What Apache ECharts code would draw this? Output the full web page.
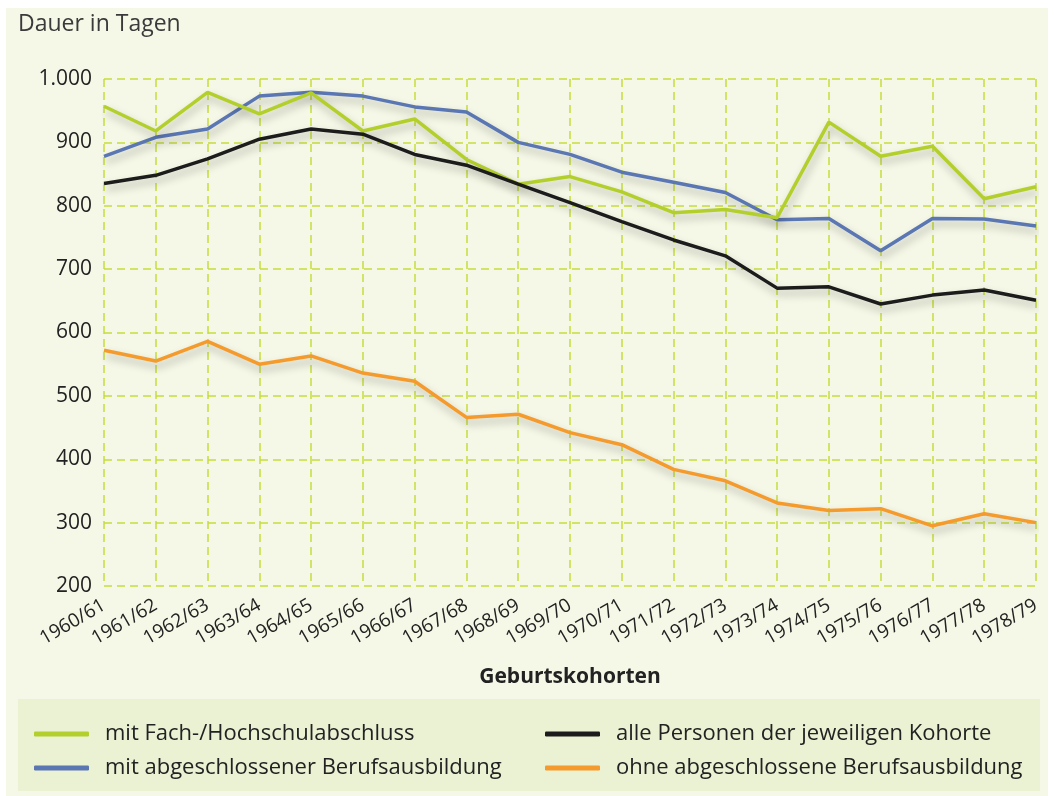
<!DOCTYPE html>
<html><head><meta charset="utf-8">
<script src="https://cdn.jsdelivr.net/npm/echarts@6/dist/echarts.min.js"></script>
<style>html,body{margin:0;padding:0;background:#fff;}#c{width:1054px;height:796px;}</style>
</head><body><div id="c"></div>
<script>
const categories = ['1960/61','1961/62','1962/63','1963/64','1964/65','1965/66','1966/67','1967/68','1968/69','1969/70','1970/71','1971/72','1972/73','1973/74','1974/75','1975/76','1976/77','1977/78','1978/79'];
const fachHochschule = [957,918,979,945,978,918,937,873,834,846,822,789,794,781,932,878,894,811,830];
const berufsausbildung = [878,908,921,973,979,973,956,948,900,881,853,837,821,778,780,729,780,779,768];
const allePersonen = [835,848,874,905,921,913,881,864,834,805,775,746,721,670,672,645,659,667,651];
const ohneAbschluss = [572,555,586,550,563,536,523,466,471,442,423,384,366,331,319,322,295,314,300];
const seriesNames = ['mit Fach-/Hochschulabschluss','mit abgeschlossener Berufsausbildung','alle Personen der jeweiligen Kohorte','ohne abgeschlossene Berufsausbildung'];
const yTicks = {min:200, max:1000, interval:100};

const FONT = '"Open Sans", sans-serif';
const colors = ['#b3cf2c','#5a76b3','#1c1c1c','#f59a2c'];
const dataSets = [fachHochschule, berufsausbildung, allePersonen, ohneAbschluss];
const gridLine = {color:'#c6db3c', width:1.5, type:[8,5]};

const chart = echarts.init(document.getElementById('c'));
chart.setOption({
  backgroundColor:'#ffffff',
  animation:false,
  graphic:[
    {type:'rect', z:-10, shape:{x:6,y:8,width:1042,height:788}, style:{fill:'#f5f8e6'}},
    {type:'rect', z:-9, shape:{x:18,y:699,width:1022,height:92}, style:{fill:'#eaf2d3'}},
    {type:'text', left:18, top:13, style:{text:'Dauer in Tagen', font:'23px '+FONT, fill:'#3a3a3a'}}
  ],
  grid:{left:104, right:18, top:79, bottom:210, containLabel:false},
  xAxis:{
    type:'category', data:categories, boundaryGap:false,
    name:'Geburtskohorten', nameLocation:'middle', nameGap:81,
    nameTextStyle:{fontFamily:FONT, fontSize:21, fontWeight:'bold', color:'#222'},
    axisLine:{show:false}, axisTick:{show:false},
    axisLabel:{rotate:30, fontFamily:FONT, fontSize:19, color:'#222', margin:18, interval:0},
    splitLine:{show:true, lineStyle:gridLine}
  },
  yAxis:{
    type:'value', min:yTicks.min, max:yTicks.max, interval:yTicks.interval,
    axisLine:{show:false}, axisTick:{show:false},
    axisLabel:{fontFamily:FONT, fontSize:21, color:'#222', margin:12,
      formatter:v=> v>=1000 ? (Math.floor(v/1000)+'.'+String(v%1000).padStart(3,'0')) : String(v)},
    splitLine:{show:true, lineStyle:gridLine}
  },
  legend:[
    {left:29, top:718, orient:'vertical', itemGap:12, itemWidth:55, itemHeight:5, icon:'roundRect',
     data:[seriesNames[0], seriesNames[1]], textStyle:{fontFamily:FONT, fontSize:22, color:'#222', padding:[0,0,0,11]}},
    {left:540, top:718, orient:'vertical', itemGap:12, itemWidth:55, itemHeight:5, icon:'roundRect',
     data:[seriesNames[2], seriesNames[3]], textStyle:{fontFamily:FONT, fontSize:22, color:'#222', padding:[0,0,0,11]}}
  ],
  series: seriesNames.map((n,i)=>({
    name:n, type:'line', data:dataSets[i], symbol:'none', color:colors[i],
    lineStyle:{width:3.5, color:colors[i], shadowColor:'rgba(0,0,0,0.28)', shadowBlur:8, shadowOffsetX:2, shadowOffsetY:5},
    z: [3,2,4,1][i]
  }))
});
</script></body></html>
